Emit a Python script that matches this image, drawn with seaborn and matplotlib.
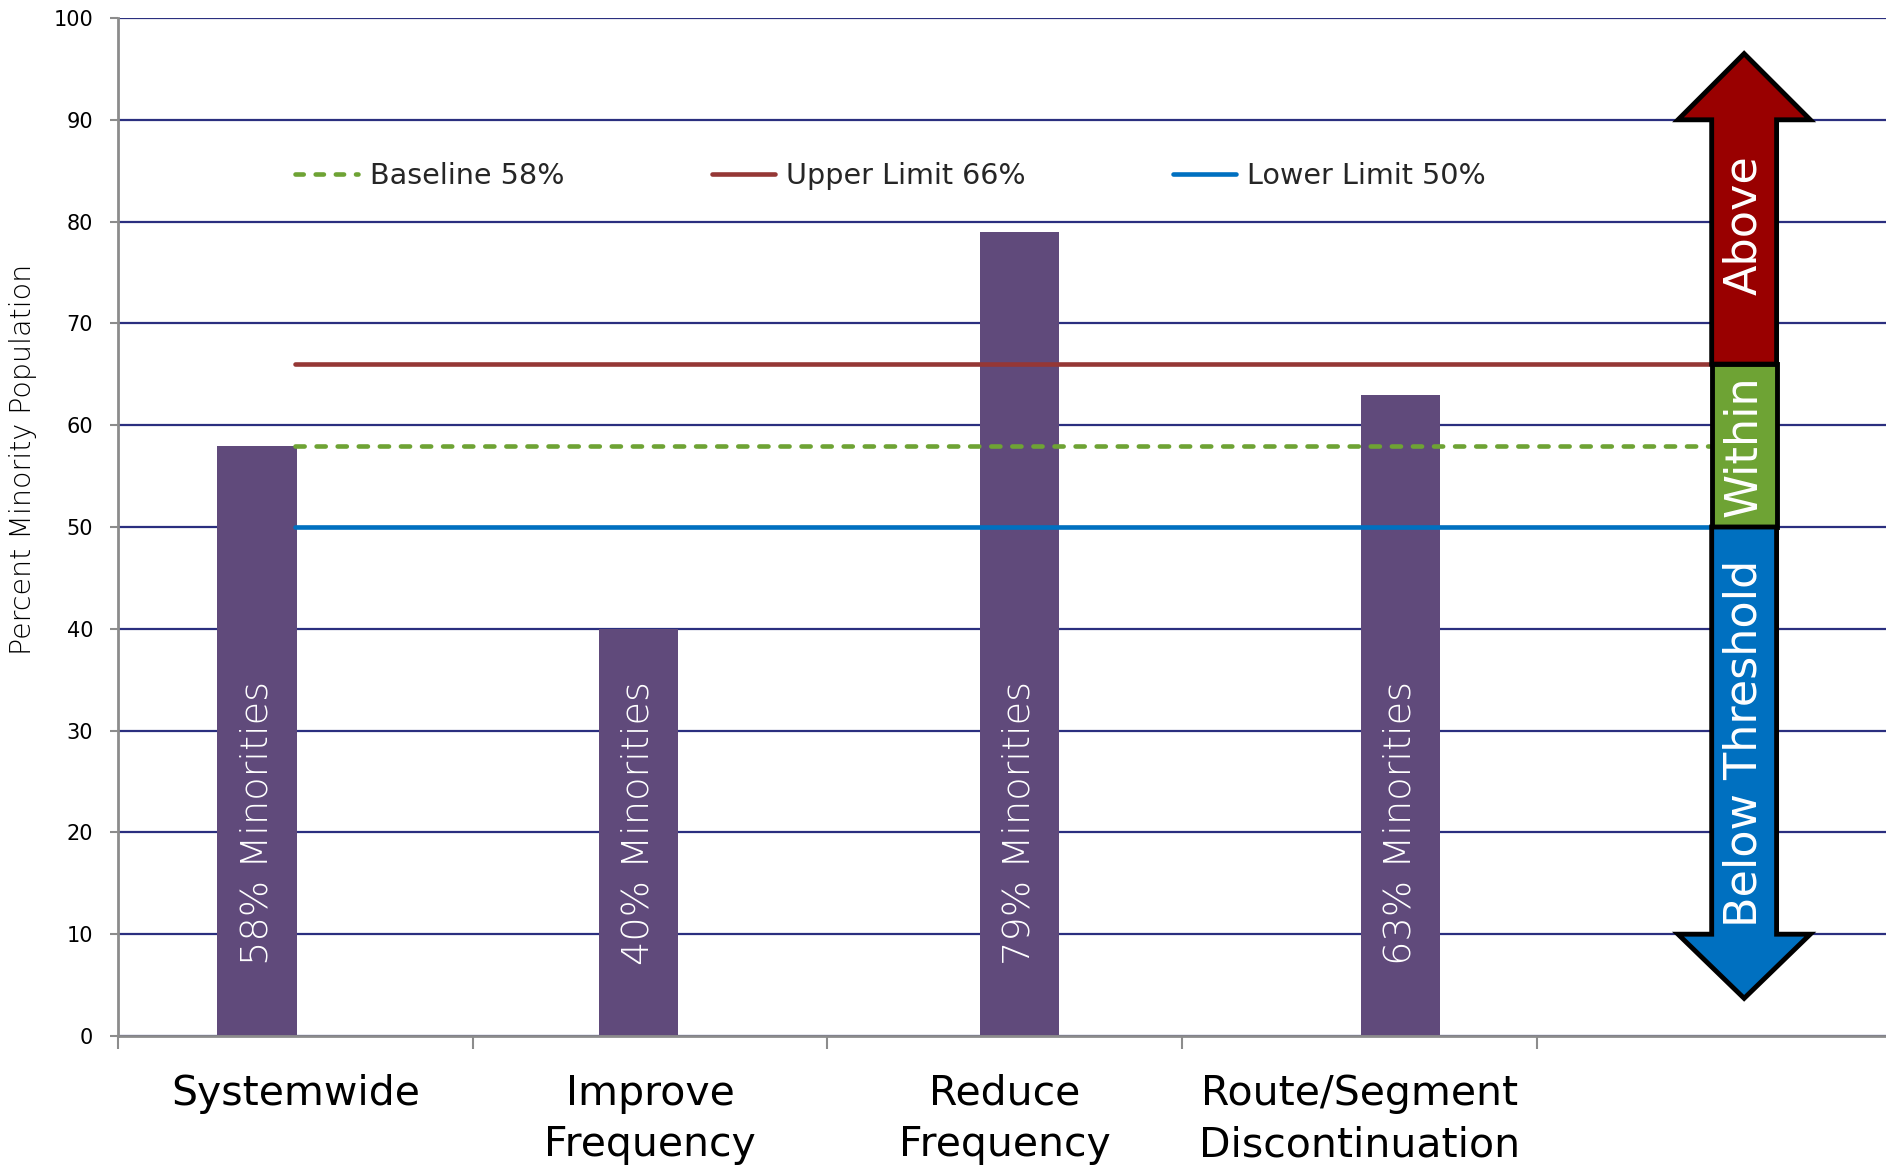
import numpy as np
import pandas as pd
import matplotlib
matplotlib.use("Agg")
import matplotlib.pyplot as plt
import seaborn as sns
from matplotlib.patches import Polygon
from matplotlib.lines import Line2D

# ---------------- data ----------------
categories = ["Systemwide", "Improve\nFrequency", "Reduce\nFrequency",
              "Route/Segment\nDiscontinuation"]
minority_pct = [58, 40, 79, 63]
bar_labels = ["58% Minorities", "40% Minorities", "79% Minorities", "63% Minorities"]
baseline = 58
upper_limit = 66
lower_limit = 50
threshold_names = ["Baseline 58%", "Upper Limit 66%", "Lower Limit 50%"]
zone_labels = ["Above", "Within", "Below Threshold"]
y_ticks = list(range(0, 101, 10))
y_label = "Percent Minority Population"

# ---------------- style ----------------
sns.set_theme(style="white")
plt.rcParams["font.family"] = ["DejaVu Sans"]

BAR = "#604A7B"
GREEN = "#6EA334"
RED_LINE = "#953735"
BLUE = "#0070C0"
RED_ARROW = "#990000"
GRID = "#2B2F7F"
AXIS = "#8C8C8C"

W, H = 1886, 1166
fig = plt.figure(figsize=(W / 100, H / 100), dpi=100)
ax = fig.add_axes([118 / W, 130 / H, 1 - 118 / W, (1036 - 18) / H])

# bars (placed on their own slightly wider category spacing, as in the source)
bar_origin, bar_step = -0.108, 1.0746
bar_df = pd.DataFrame({"pos": bar_origin + bar_step * np.arange(len(categories)),
                       "pct": minority_pct})
sns.barplot(data=bar_df, x="pos", y="pct", native_scale=True, width=0.208,
            color=BAR, saturation=1, linewidth=0, ax=ax, zorder=2)

# threshold lines across category centres (including the empty last slot)
line_x = np.arange(len(categories) + 1)
lw = 3.3
dash = (0, (2.0, 2.6))
sns.lineplot(x=line_x, y=[upper_limit] * len(line_x), color=RED_LINE, lw=lw,
             solid_capstyle="round", ax=ax, zorder=3)
sns.lineplot(x=line_x, y=[baseline] * len(line_x), color=GREEN, lw=lw,
             linestyle=dash, dash_capstyle="round", ax=ax, zorder=3)
sns.lineplot(x=line_x, y=[lower_limit] * len(line_x), color=BLUE, lw=lw,
             solid_capstyle="round", ax=ax, zorder=3)

# bar labels
for xpos, txt in zip(bar_df["pos"], bar_labels):
    ax.text(xpos, 7.0, txt, rotation=90, ha="center", va="bottom",
            color="white", fontsize=27.5, fontweight="light", zorder=4)

# ---------------- axes ----------------
ax.set_xlim(-0.5, 4.485)
ax.set_ylim(0, 100)
ax.set_xticks(np.arange(-0.5, len(categories), 1.0))
ax.set_xticklabels([])
ax.set_xticks(np.arange(len(categories)), minor=True)
ax.set_xticklabels(categories, minor=True, fontsize=29.5, linespacing=1.38,
                   color="black")
ax.tick_params(axis="x", which="major", length=9, width=1.5, color=AXIS,
               direction="out", bottom=True)
ax.tick_params(axis="x", which="minor", length=0, pad=27, bottom=True)
ax.set_xlabel("")

ax.set_yticks(y_ticks)
ax.tick_params(axis="y", length=6, width=1.5, color=AXIS, labelsize=15,
               pad=12, left=True, labelcolor="black")
ax.yaxis.grid(True, color=GRID, lw=1.6)
ax.xaxis.grid(False)
ax.set_axisbelow(True)
ax.set_ylabel(y_label, fontsize=20.5, fontweight="light", color="black")
ax.yaxis.set_label_coords(-0.046, 0.566)

for s in ["top", "right"]:
    ax.spines[s].set_visible(False)
for s in ["left", "bottom"]:
    ax.spines[s].set_color(AXIS)
    ax.spines[s].set_linewidth(2)
    ax.spines[s].set_zorder(2.5)

# ---------------- legend ----------------
handles = [
    Line2D([], [], color=GREEN, lw=lw, linestyle=(0, (1.8, 2.6)),
           dash_capstyle="round"),
    Line2D([], [], color=RED_LINE, lw=lw, solid_capstyle="round"),
    Line2D([], [], color=BLUE, lw=lw, solid_capstyle="round"),
]
ax.legend(handles, threshold_names, ncol=3, loc="center left",
          bbox_to_anchor=(0.0, 84.5), bbox_transform=ax.transData,
          frameon=False, fontsize=20.6, handlelength=2.2, handletextpad=0.4,
          columnspacing=5.15, borderpad=0, borderaxespad=0)

# ---------------- threshold arrow ----------------
cx, sw, hw = 4.085, 0.0915, 0.1865
top_tip, top_base, bot_base, bot_tip = 96.5, 90, 10, 3.7
above = Polygon([(cx - sw, upper_limit), (cx - sw, top_base), (cx - hw, top_base),
                 (cx, top_tip), (cx + hw, top_base), (cx + sw, top_base),
                 (cx + sw, upper_limit)], closed=True)
within = Polygon([(cx - sw, lower_limit), (cx - sw, upper_limit),
                  (cx + sw, upper_limit), (cx + sw, lower_limit)], closed=True)
below = Polygon([(cx - sw, lower_limit), (cx - sw, bot_base), (cx - hw, bot_base),
                 (cx, bot_tip), (cx + hw, bot_base), (cx + sw, bot_base),
                 (cx + sw, lower_limit)], closed=True)
for patch, col in [(above, RED_ARROW), (within, GREEN), (below, BLUE)]:
    patch.set_facecolor(col)
    patch.set_edgecolor("black")
    patch.set_linewidth(3.5)
    patch.set_joinstyle("miter")
    patch.set_zorder(5)
    patch.set_clip_on(False)
    ax.add_patch(patch)

zone_y = [79.7, 57.9, 28.7]
for txt, yy in zip(zone_labels, zone_y):
    ax.text(cx, yy, txt, rotation=90, ha="center", va="center", color="white",
            fontsize=32, zorder=6)

fig.savefig("out.png", dpi=100)
